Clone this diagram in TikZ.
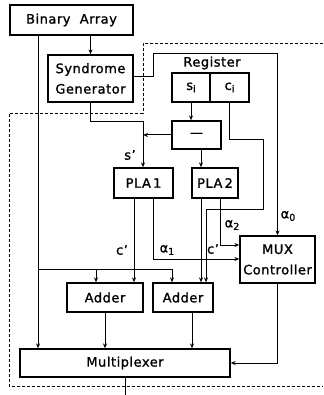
\documentclass[tikz,border=0pt]{standalone}
\usepackage{fontspec}
\setmainfont{DejaVu Sans}[LetterSpace=4.0,FakeBold=1.2]
\usetikzlibrary{arrows.meta}
\tikzset{
  box/.style={draw, line width=1.3pt, inner sep=0pt, align=center, font=\fontsize{13}{20.5}\selectfont},
  conn/.style={line width=1pt},
  arr/.style={conn, -{Stealth[length=5pt,width=4pt]}},
  lbl/.style={inner sep=0pt, font=\fontsize{13}{14}\selectfont},
  dsh/.style={line width=0.7pt, dash pattern=on 3pt off 2pt}
}
\newcommand{\subsc}[1]{\raisebox{-2.5pt}{\fontsize{9.5}{10}\selectfont #1}}
\begin{document}
\begin{tikzpicture}[x=1pt,y=-1pt]
\useasboundingbox (0,0) rectangle (323,395);
% boxes
\node[box, minimum width=123pt, minimum height=30pt] (ba) at (71.5,20) {Binary\ \ Array};
\node[box, minimum width=85pt, minimum height=47pt] (sg) at (90.5,78.5) {Syndrome\\Generator};
\node[box, minimum width=38pt, minimum height=29pt] (si) at (191,87.5) {s\subsc{i}};
\node[box, minimum width=39pt, minimum height=29pt] (ci) at (229.5,87.5) {c\subsc{i}};
\node[lbl] (reglbl) at (212,63) {Register};
\node[box, minimum width=49pt, minimum height=28pt] (sub) at (196.5,135) {—};
\node[box, minimum width=59pt, minimum height=30pt] (pla1) at (143.5,183) {PLA\,1};
\node[box, minimum width=46pt, minimum height=30pt] (pla2) at (215,183) {PLA\,2};
\node[box, minimum width=75pt, minimum height=47pt] (mux) at (277.5,259.5) {MUX\\Controller};
\node[box, minimum width=76pt, minimum height=29pt] (add1) at (105,297.5) {Adder};
\node[box, minimum width=60pt, minimum height=29pt] (add2) at (183,297.5) {Adder};
\node[box, minimum width=210pt, minimum height=28pt] (mp) at (125,363) {Multiplexer};
% coordinates
\coordinate (br) at (38,269);
\coordinate (sgc) at (143,122);
\coordinate (cic) at (263,140);
\coordinate (cid) at (206,209);
\coordinate (sgr) at (153,54);
\coordinate (mpo) at (125,395);
% dashed enclosure
\draw[dsh] (323,43) -- (143,43) -- (143,113) -- (9,113) -- (9,386) -- (323,386);
% connectors
\draw[arr] (ba.south -| sg.north) -- (sg.north);
\draw[arr] (ba.south -| br) -- (mp.north -| br);
\draw[arr] (br) -- (172,269) -- (add2.north -| 172,0);
\draw[arr] (96,269) -- (add1.north -| 96,0);
\draw[arr] (sg.south) |- (sgc) -- (pla1.north -| sgc);
\node[lbl] (sp) at (130,155) {s'};
\draw[arr] (sub.west) -- (sub.west -| sgc);
\draw[arr] (si.south) -- (sub.north -| si.south);
\draw[arr] (sub.south -| 201,0) -- (pla2.north -| 201,0);
\draw[arr] (ci.south) |- (cic) |- (cid) -- (add2.north -| cid);
\draw[arr] (pla1.south -| 134,0) -- (add1.north -| 134,0);
\node[lbl] (c1) at (122,250) {c'};
\draw[arr] (pla1.south -| 153,0) |- (mux.west |- 0,259);
\node[lbl] (a1) at (167,250) {α\subsc{1}};
\draw[arr] (pla2.south -| 201,0) -- (add2.north -| 201,0);
\node[lbl] (c2) at (213,249) {c'};
\draw[arr] (pla2.south -| 220,0) |- (mux.west |- 0,245);
\node[lbl] (a2) at (232,225) {α\subsc{2}};
\draw[arr] (sg.east |- 0,77) -- (153,77) |- (sgr) -| (mux.north);
\node[lbl] (a0) at (288,216) {α\subsc{0}};
\draw[arr] (add1.south) -- (mp.north -| add1.south);
\draw[arr] (add2.south -| 192,0) -- (mp.north -| 192,0);
\draw[arr] (mux.south) |- (mp.east |- 0,363);
\draw[conn] (mp.south) -- (mpo);
\end{tikzpicture}
\end{document}
